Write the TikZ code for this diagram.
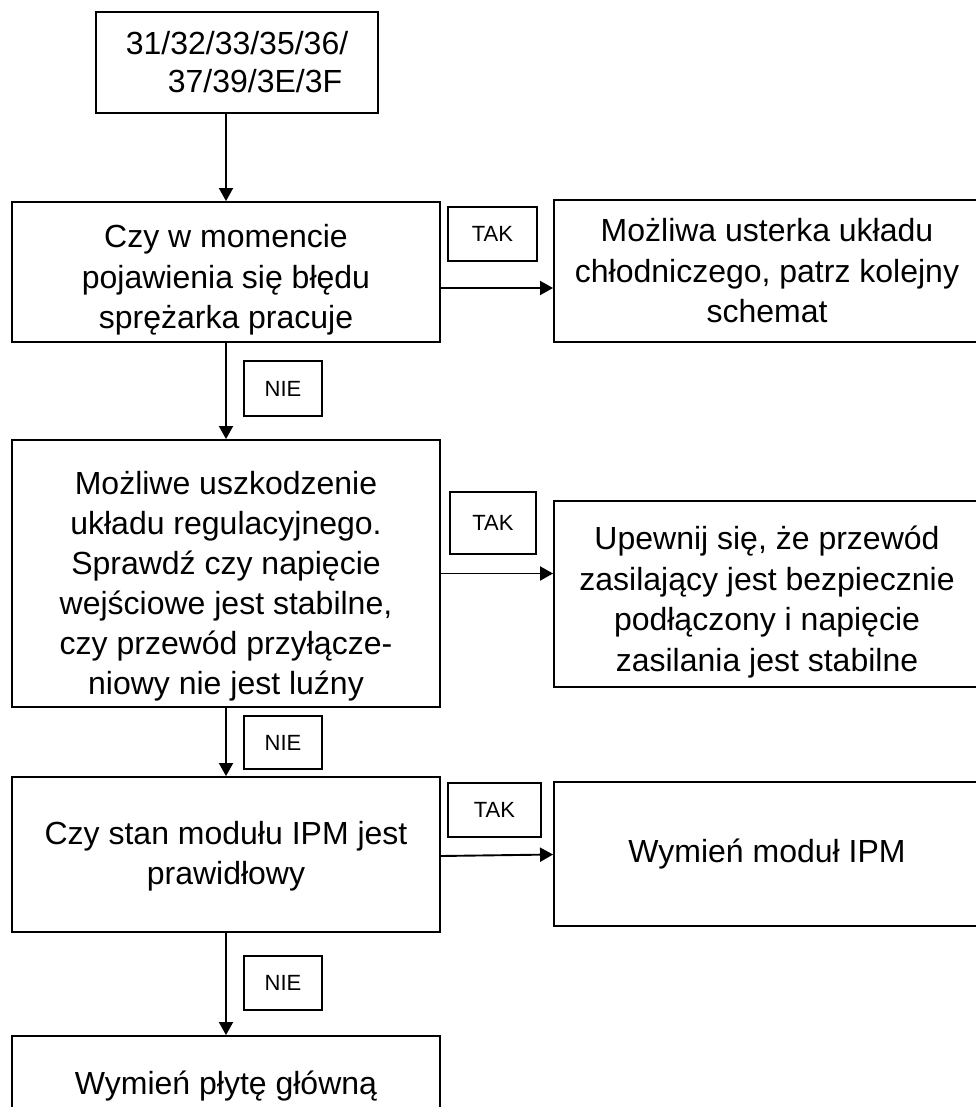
\documentclass[tikz,border=0pt]{standalone}
\usepackage{fontspec}
\setmainfont{Liberation Sans}
\usetikzlibrary{arrows.meta, positioning}

\begin{document}
\begin{tikzpicture}[x=1pt, y=-1pt,
  flowbox/.style={draw, line width=1.9pt, inner sep=0pt, align=center, minimum width=428pt, font=\fontsize{32}{40.5}\selectfont},
  tagbox/.style={draw, line width=1.4pt, inner sep=0pt, minimum width=78pt, minimum height=54pt, font=\fontsize{22}{26}\selectfont},
  flowarrow/.style={-{Triangle[length=13pt, width=14pt]}, line width=1.9pt}]
  \useasboundingbox (0,0) rectangle (975,1107);
  % error codes
  \node[flowbox, minimum width=282pt, minimum height=101pt, font=\fontsize{32}{38}\selectfont] (codes) at (237,62.5) {31/32/33/35/36/\\\hspace*{36pt}37/39/3E/3F};
  % main column
  \node[flowbox, minimum height=140pt] (q1) at (226,272) {\rule{0pt}{39pt}Czy w momencie\\pojawienia się błędu\\sprężarka pracuje};
  \node[flowbox, minimum height=267pt, font=\fontsize{32}{40}\selectfont] (q2) at (226,573.5) {\rule{0pt}{48pt}Możliwe uszkodzenie\\układu regulacyjnego.\\Sprawdź czy napięcie\\wejściowe jest stabilne,\\czy przewód przyłącze-\\niowy nie jest luźny};
  \node[flowbox, minimum height=155pt] (q3) at (226,854.5) {\rule{0pt}{27pt}Czy stan modułu IPM jest\\prawidłowy};
  \node[flowbox, minimum height=100pt] (board) at (226,1086) {Wymień płytę główną};
  % right column
  \node[flowbox, minimum width=426pt, minimum height=142pt] (r1) at (767,271) {Możliwa usterka układu\\chłodniczego, patrz kolejny\\schemat};
  \node[flowbox, minimum width=426pt, minimum height=186pt] (r2) at (767,594) {\rule{0pt}{40pt}Upewnij się, że przewód\\zasilający jest bezpiecznie\\podłączony i napięcie\\zasilania jest stabilne};
  \node[flowbox, minimum width=426pt, minimum height=144pt] (r3) at (767,854) {Wymień moduł IPM};
  % answer tags
  \node[tagbox, minimum width=89pt] (tak1) at (492.5,234) {TAK};
  \node[tagbox, minimum width=86pt, minimum height=62pt] (tak2) at (493,523) {TAK};
  \node[tagbox, minimum width=93pt] (tak3) at (494.5,810) {TAK};
  \node[tagbox, minimum height=55pt] (nie1) at (283,388.5) {NIE};
  \node[tagbox, minimum height=53pt] (nie2) at (283,742.5) {NIE};
  \node[tagbox] (nie3) at (283,983) {NIE};
  % arrows
  \draw[flowarrow] (q1.north |- codes.south) -- (q1.north);
  \draw[flowarrow] (q1.south) -- (q2.north);
  \draw[flowarrow] (q2.south) -- (q3.north);
  \draw[flowarrow] (q3.south) -- (board.north);
  \draw[flowarrow] ([yshift=-16pt]q1.east) -- ([yshift=-16pt]q1.east -| r1.west);
  \draw[flowarrow] (q2.east) -- (q2.east -| r2.west);
  \draw[flowarrow] ([yshift=-1.5pt]q3.east) -- ([yshift=-0.5pt]r3.west);
\end{tikzpicture}
\end{document}
